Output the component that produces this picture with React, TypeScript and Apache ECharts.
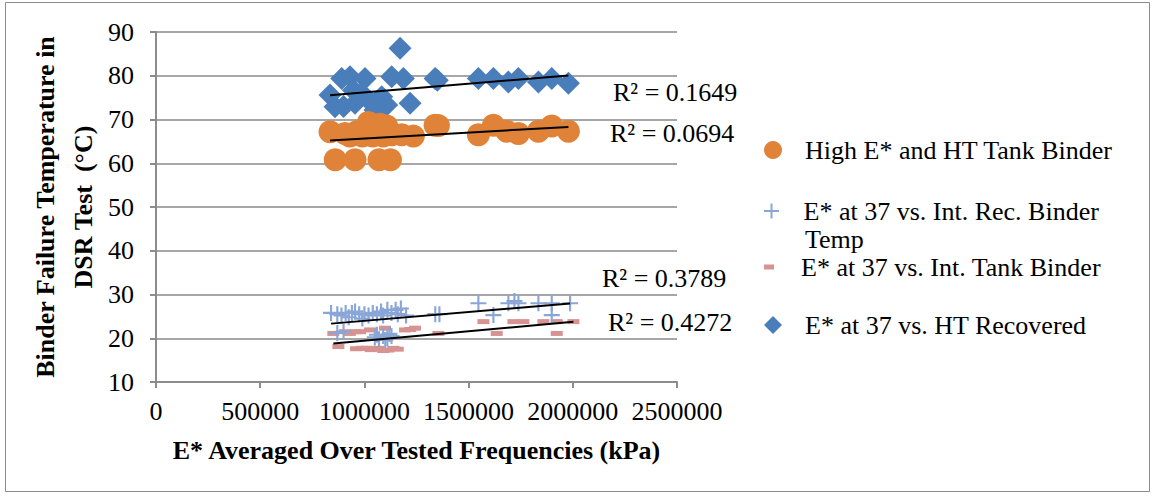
import React, { useEffect, useRef } from "react";
import * as echarts from "echarts";

const FONT = "'Liberation Serif', 'Times New Roman', serif";

const seriesNames = [
  "High E* and HT Tank Binder",
  "E* at 37 vs. Int. Rec. Binder Temp",
  "E* at 37 vs. Int. Tank Binder",
  "E* at 37 vs. HT Recovered",
];

const xAxisTitle = "E* Averaged Over Tested Frequencies (kPa)";
const yAxisTitle = "Binder Failure Temperature in\nDSR Test  (°C)";

// [E* (kPa), temperature (°C)]
const highTankBinder: [number, number][] = [
  [835000, 67.2], [860000, 60.8], [907000, 66.8], [930000, 66.2], [955000, 60.8],
  [963000, 67.2], [990000, 66.2], [1019000, 69.3], [1040000, 66.2], [1070000, 60.8],
  [1075000, 68.9], [1090000, 66.2], [1107000, 68.5], [1125000, 60.8], [1131000, 66.5],
  [1179000, 66.5], [1235000, 66.2], [1339000, 68.7], [1355000, 68.6], [1547000, 66.5],
  [1619000, 68.7], [1683000, 67.3], [1739000, 66.8], [1835000, 67.3], [1899000, 68.5],
  [1979000, 67.3],
];

const intRecBinder: [number, number][] = [
  [840000, 25.8], [870000, 25.5], [870000, 21.2], [890000, 25.2], [900000, 21.5],
  [910000, 25.8], [925000, 24.8], [940000, 25.8], [955000, 26.1], [975000, 25.5],
  [990000, 24.5], [1000000, 25.5], [1020000, 25.2], [1040000, 25.8], [1050000, 20.2],
  [1060000, 25.5], [1060000, 20.8], [1070000, 19.8], [1080000, 26.1], [1090000, 25.2],
  [1090000, 20.5], [1100000, 19.6], [1110000, 26.5], [1110000, 20.0], [1120000, 21.0],
  [1130000, 25.8], [1130000, 20.5], [1150000, 26.5], [1160000, 25.5], [1175000, 26.8],
  [1200000, 25.2], [1340000, 25.5], [1360000, 25.5], [1547000, 28.0], [1619000, 25.3],
  [1691000, 28.0], [1720000, 28.5], [1739000, 28.0], [1835000, 28.0], [1899000, 28.0],
  [1899000, 25.3], [1987000, 28.0],
];

const intTankBinder: [number, number][] = [
  [851000, 21.1], [875000, 18.1], [907000, 21.5], [930000, 21.1], [955000, 21.5],
  [960000, 17.6], [979000, 21.5], [987000, 17.7], [1010000, 17.7], [1027000, 21.9],
  [1030000, 17.4], [1050000, 17.5], [1067000, 17.7], [1090000, 17.2], [1099000, 22.3],
  [1115000, 17.3], [1139000, 17.7], [1160000, 17.5], [1195000, 21.9], [1220000, 22.0],
  [1243000, 22.3], [1355000, 21.1], [1571000, 23.8], [1635000, 21.1], [1715000, 23.8],
  [1763000, 23.8], [1859000, 23.8], [1923000, 23.8], [1923000, 21.1], [2003000, 23.8],
];

const htRecovered: [number, number][] = [
  [835000, 75.6], [859000, 72.9], [891000, 79.4], [900000, 73.0], [931000, 79.8],
  [947000, 76.7], [955000, 73.7], [987000, 76.0], [1003000, 79.4], [1027000, 74.1],
  [1051000, 72.2], [1059000, 74.1], [1075000, 72.5], [1083000, 75.2], [1107000, 73.3],
  [1131000, 79.8], [1171000, 86.3], [1187000, 79.4], [1219000, 73.7], [1339000, 79.4],
  [1350000, 79.0], [1547000, 79.4], [1619000, 79.4], [1691000, 78.6], [1739000, 79.4],
  [1835000, 78.6], [1899000, 79.4], [1979000, 78.3],
];

const rSquaredLabels = ["0.1649", "0.0694", "0.3789", "0.4272"];

const PLUS = "path://M6.5,0h2v6.5h6.5v2h-6.5v6.5h-2v-6.5h-6.5v-2h6.5z";
const DASH = "path://M0,0h10v5h-10z";
const DIAMOND = "path://M5,0L10,5L5,10L0,5Z";

function trend(points: [number, number][]): [number, number][] {
  const n = points.length;
  let sx = 0, sy = 0, sxx = 0, sxy = 0;
  for (const [x, y] of points) { sx += x; sy += y; sxx += x * x; sxy += x * y; }
  const b = (n * sxy - sx * sy) / (n * sxx - sx * sx);
  const a = (sy - b * sx) / n;
  const xs = points.map((p) => p[0]);
  const x0 = Math.min(...xs), x1 = Math.max(...xs);
  return [[x0, a + b * x0], [x1, a + b * x1]];
}

export default function App() {
  const ref = useRef<HTMLDivElement>(null);
  useEffect(() => {
    if (!ref.current) return;
    const chart = echarts.init(ref.current, null, { renderer: "svg" });
    const axisGrey = "#8c8c8c";
    const text = { fontFamily: FONT, fontSize: 26, color: "#000" };
    const legendItem = (name: string, icon: string, h: number, top: number, fmt?: string) => ({
      left: 764,
      top,
      padding: 0,
      orient: "vertical",
      itemWidth: 18,
      itemHeight: h,
      itemGap: 0,
      symbolKeepAspect: true,
      selectedMode: false,
      data: [{ name, icon }],
      formatter: fmt ? () => fmt : undefined,
      textStyle: { ...text, lineHeight: 26, padding: [0, 0, 0, 18] },
    });
    const trendSeries = (pts: [number, number][]) => ({
      type: "line",
      data: trend(pts),
      symbol: "none",
      silent: true,
      z: 5,
      lineStyle: { color: "#000", width: 2 },
    });
    const rLabel = (x: number, y: number, v: string) => ({
      type: "text",
      x,
      y,
      style: { text: `R² = ${v}`, font: `26px ${FONT}`, fill: "#000", verticalAlign: "middle" },
    });
    chart.setOption({
      animation: false,
      backgroundColor: "#fff",
      grid: { left: 156, top: 32, width: 521, height: 350, containLabel: false },
      xAxis: {
        type: "value",
        min: 0,
        max: 2500000,
        interval: 500000,
        name: xAxisTitle,
        nameLocation: "middle",
        nameGap: 55,
        nameTextStyle: { ...text, fontWeight: "bold", lineHeight: 26 },
        axisLine: { show: true, lineStyle: { color: axisGrey, width: 2 } },
        axisTick: { show: true, length: 6, lineStyle: { color: axisGrey, width: 2 } },
        axisLabel: { ...text, margin: 16, lineHeight: 26, formatter: (v: number) => String(v) },
        splitLine: { show: false },
      },
      yAxis: {
        type: "value",
        min: 10,
        max: 90,
        interval: 10,
        name: yAxisTitle,
        nameLocation: "middle",
        nameRotate: 90,
        nameGap: 54,
        nameTextStyle: { ...text, fontWeight: "bold", lineHeight: 38 },
        axisLine: { show: true, lineStyle: { color: axisGrey, width: 2 } },
        axisTick: { show: true, length: 6, lineStyle: { color: axisGrey, width: 2 } },
        axisLabel: { ...text, margin: 22 },
        splitLine: { show: true, lineStyle: { color: "#a6a6a6", width: 2 } },
      },
      legend: [
        legendItem(seriesNames[0], "circle", 18, 137),
        legendItem(seriesNames[1], PLUS, 15, 198, "E* at 37 vs. Int. Rec. Binder"),
        legendItem(seriesNames[2], DASH, 5, 254),
        legendItem(seriesNames[3], DIAMOND, 18, 312),
      ],
      graphic: [
        {
          type: "rect",
          shape: { x: 5.5, y: 2.5, width: 1144, height: 489 },
          style: { fill: "none", stroke: "#8c8c8c", lineWidth: 1 },
          silent: true,
        },
        { type: "text", left: 805, top: 226, style: { text: "Temp", font: `26px ${FONT}`, fill: "#000" } },
        rLabel(613, 92, rSquaredLabels[0]),
        rLabel(610, 133, rSquaredLabels[1]),
        rLabel(602, 278, rSquaredLabels[2]),
        rLabel(608, 322, rSquaredLabels[3]),
      ],
      series: [
        {
          name: seriesNames[3],
          type: "scatter",
          data: htRecovered,
          symbol: DIAMOND,
          symbolSize: 23,
          itemStyle: { color: "#4a7ebb", opacity: 1 },
          z: 2,
        },
        {
          name: seriesNames[0],
          type: "scatter",
          data: highTankBinder,
          symbol: "circle",
          symbolSize: 23,
          itemStyle: { color: "#e08339", opacity: 1 },
          z: 3,
        },
        {
          name: seriesNames[2],
          type: "scatter",
          data: intTankBinder,
          symbol: DASH,
          symbolSize: [12, 5],
          itemStyle: { color: "#d69391", opacity: 1 },
          z: 2,
        },
        {
          name: seriesNames[1],
          type: "scatter",
          data: intRecBinder,
          symbol: PLUS,
          symbolSize: 16,
          itemStyle: { color: "#8aa6d6", opacity: 1 },
          z: 3,
        },
        trendSeries(htRecovered),
        trendSeries(highTankBinder),
        trendSeries(intRecBinder),
        trendSeries(intTankBinder),
      ],
    });
    return () => chart.dispose();
  }, []);
  return (
    <div
      ref={ref}
      style={{ position: "fixed", left: 0, top: 0, width: 1156, height: 496 }}
    />
  );
}
